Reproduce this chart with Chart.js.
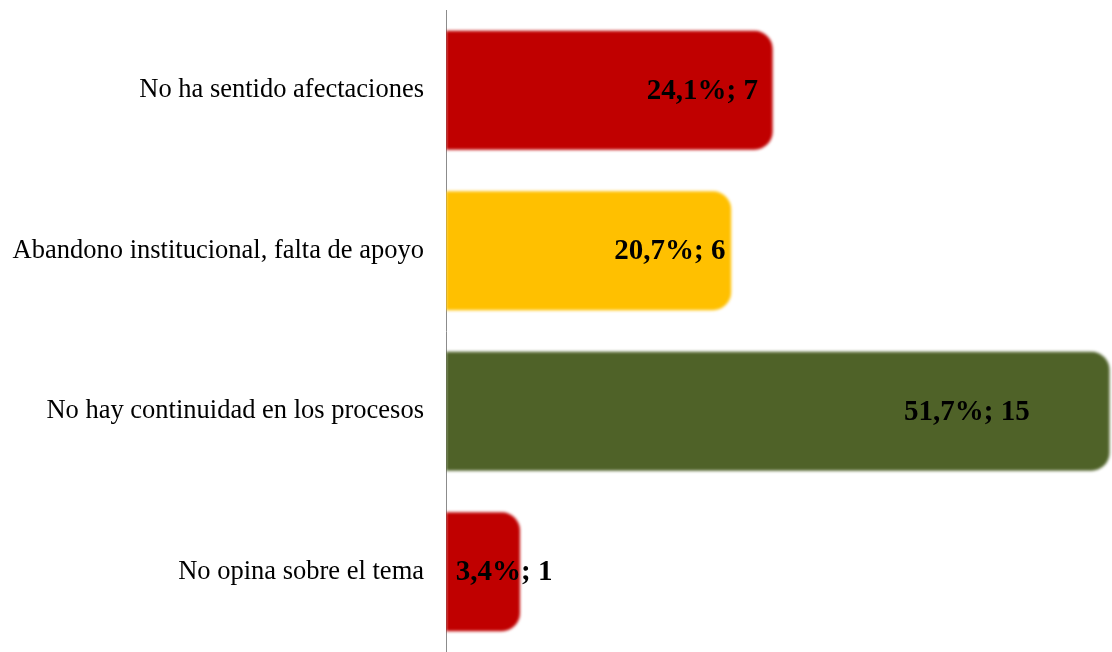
<!DOCTYPE html>
<html>
<head>
<meta charset="utf-8">
<script src="https://cdn.jsdelivr.net/npm/chart.js@4/dist/chart.umd.min.js"></script>
<style>
  html,body{margin:0;padding:0;background:#fff;}
  #wrap{width:1112px;height:652px;position:relative;}
</style>
</head>
<body>
<div id="wrap"><canvas id="chart"></canvas></div>
<script>
const categories = ["No ha sentido afectaciones","Abandono institucional, falta de apoyo","No hay continuidad en los procesos","No opina sobre el tema"];
const percents = [24.1, 20.7, 51.7, 3.4];
const counts = [7, 6, 15, 1];
const barColors = ["#C00000","#FFC000","#4F6228","#C00000"];
const axisMin = -2.66;
const axisMax = 51.9;

// soft edges like the original picture
const blurBars = {
  id:"blurBars",
  beforeDatasetsDraw(chart){ chart.ctx.save(); chart.ctx.filter = "blur(1.6px)"; },
  afterDatasetsDraw(chart){ chart.ctx.restore(); }
};

const valueLabels = {
  id:"valueLabels",
  afterDraw(chart){
    const ctx = chart.ctx;
    const meta = chart.getDatasetMeta(0);
    ctx.save();
    ctx.font = "bold 29px 'Liberation Serif', 'Times New Roman', serif";
    ctx.fillStyle = "#000";
    ctx.textAlign = "center";
    ctx.textBaseline = "middle";
    meta.data.forEach((bar, i) => {
      const txt = percents[i].toFixed(1).replace(".", ",") + "%; " + counts[i];
      const w = ctx.measureText(txt).width;
      let cx = bar.base + 0.785 * (bar.x - bar.base);
      if (cx - w / 2 < bar.base + 8) cx = bar.base + 8 + w / 2;
      ctx.fillText(txt, cx, bar.y + 1);
    });
    ctx.restore();
  }
};

new Chart(document.getElementById("chart").getContext("2d"), {
  type:"bar",
  data:{
    labels:categories,
    datasets:[{
      data:percents,
      base:axisMin,
      backgroundColor:barColors,
      borderWidth:0,
      borderRadius:18,
      borderSkipped:"start",
      categoryPercentage:1,
      barPercentage:0.74
    }]
  },
  options:{
    indexAxis:"y",
    responsive:true,
    maintainAspectRatio:false,
    animation:false,
    layout:{padding:{top:10,right:0,bottom:0,left:0}},
    plugins:{legend:{display:false},tooltip:{enabled:false}},
    scales:{
      x:{display:false,min:axisMin,max:axisMax},
      y:{
        afterFit(scale){ scale.width = 446; scale.paddingTop = 0; scale.paddingBottom = 0; },
        grid:{display:false,drawTicks:false},
        border:{display:true,color:"#8c8c8c",width:1},
        ticks:{
          color:"#000",
          padding:22,
          font:{family:"'Liberation Serif', 'Times New Roman', serif",size:26.5}
        }
      }
    }
  },
  plugins:[blurBars,valueLabels]
});
</script>
</body>
</html>
